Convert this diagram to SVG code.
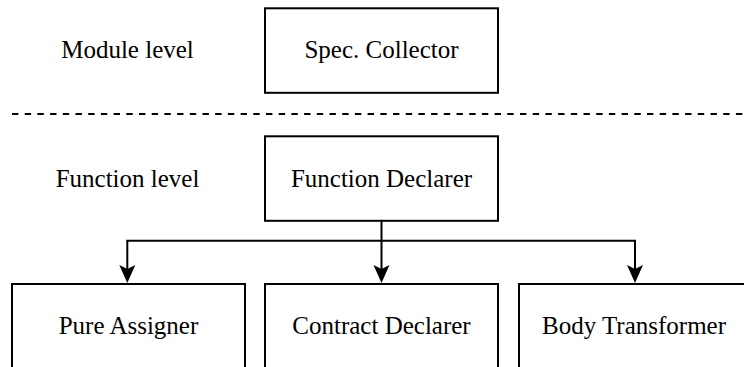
<svg xmlns="http://www.w3.org/2000/svg" width="744" height="367" viewBox="0 0 744 367">
  <style>
    .box { fill: #ffffff; stroke: #000000; stroke-width: 2; }
    .label { font-family: "Liberation Serif", "Times New Roman", serif; font-size: 25px; fill: #000000; text-anchor: middle; }
    .edge { fill: none; stroke: #000000; stroke-width: 2; }
    .divider { fill: none; stroke: #000000; stroke-width: 2; stroke-dasharray: 6.4 6.3; }
  </style>
  <defs>
    <marker id="arrow" markerUnits="userSpaceOnUse" markerWidth="20" markerHeight="18" refX="14" refY="8" orient="auto" overflow="visible">
      <path d="M0,0 L18,8 L0,16 L4,8 Z" fill="#000000"/>
    </marker>
  </defs>
  <rect width="744" height="367" fill="#ffffff"/>

  <!-- level captions -->
  <text class="label" x="127.5" y="58.3">Module level</text>
  <text class="label" x="127.5" y="186.5">Function level</text>

  <!-- boundary between module and function levels -->
  <line class="divider" x1="12" y1="114" x2="744" y2="114"/>

  <g id="spec-collector">
    <rect class="box" x="265" y="8.3" width="233" height="84.5"/>
    <text class="label" x="381.5" y="58.3">Spec. Collector</text>
  </g>

  <g id="function-declarer">
    <rect class="box" x="265" y="136.3" width="233" height="84.5"/>
    <text class="label" x="381.5" y="186.5">Function Declarer</text>
  </g>

  <g id="pure-assigner">
    <rect class="box" x="12" y="284" width="233" height="84.5"/>
    <text class="label" x="128.5" y="334">Pure Assigner</text>
  </g>

  <g id="contract-declarer">
    <rect class="box" x="265" y="284" width="233" height="84.5"/>
    <text class="label" x="381.5" y="334">Contract Declarer</text>
  </g>

  <g id="body-transformer">
    <rect class="box" x="519" y="284" width="233" height="84.5"/>
    <text class="label" x="634" y="334">Body Transformer</text>
  </g>

  <g id="connectors">
    <line class="edge" x1="381.5" y1="220.8" x2="381.5" y2="240.7"/>
    <line class="edge" x1="126.3" y1="240.7" x2="636" y2="240.7"/>
    <line class="edge" x1="127.3" y1="240.7" x2="127.3" y2="279" marker-end="url(#arrow)"/>
    <line class="edge" x1="381.5" y1="240.7" x2="381.5" y2="279" marker-end="url(#arrow)"/>
    <line class="edge" x1="635" y1="240.7" x2="635" y2="279" marker-end="url(#arrow)"/>
  </g>
</svg>
